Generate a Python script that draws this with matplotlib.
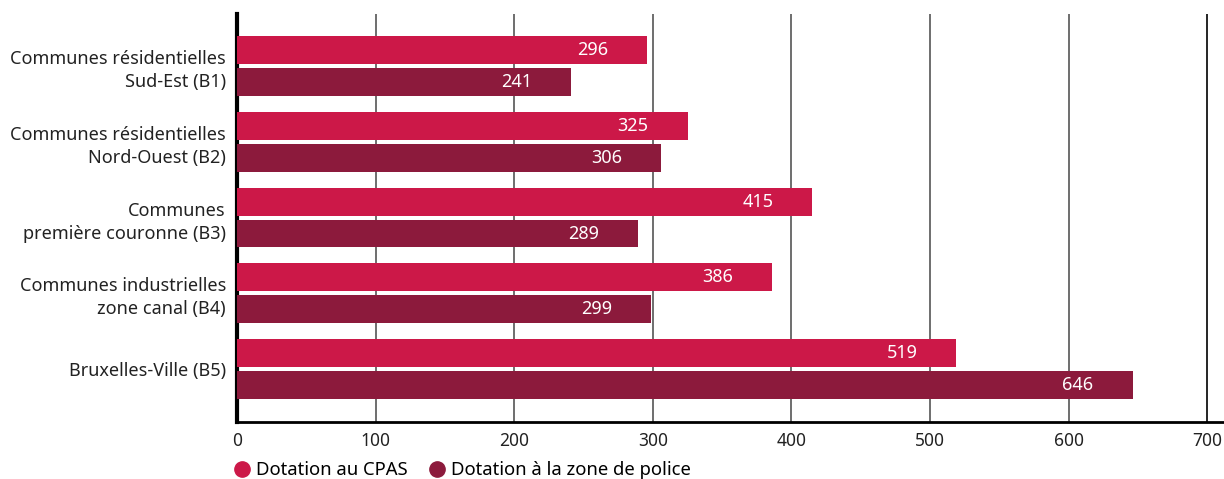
import numpy as np
import matplotlib
matplotlib.use("Agg")
import matplotlib.pyplot as plt
from matplotlib.lines import Line2D

plt.rcParams['font.family'] = ['Noto Sans', 'DejaVu Sans']

# data
categories = ["Communes résidentielles\nSud-Est (B1)",
              "Communes résidentielles\nNord-Ouest (B2)",
              "Communes\npremière couronne (B3)",
              "Communes industrielles\nzone canal (B4)",
              "Bruxelles-Ville (B5)"]
cpas = [296, 325, 415, 386, 519]
police = [241, 306, 289, 299, 646]
series_names = ["Dotation au CPAS", "Dotation à la zone de police"]
x_ticks = [0, 100, 200, 300, 400, 500, 600, 700]

col_cpas = "#CC1848"
col_police = "#8C1A3C"

fig = plt.figure(figsize=(12.24, 4.79), dpi=100)
ax = fig.add_axes([237/1224, 57/479, 1 - 237/1224, 408/479])

y = np.arange(len(categories))
h = 0.368
off = 0.21
b1 = ax.barh(y - off, cpas, height=h, color=col_cpas, zorder=3)
b2 = ax.barh(y + off, police, height=h, color=col_police, zorder=3)

for bars, vals in [(b1, cpas), (b2, police)]:
    for rect, v in zip(bars, vals):
        ax.annotate(str(v), (v, rect.get_y() + rect.get_height() / 2),
                    xytext=(-28, 0), textcoords="offset points",
                    ha="right", va="center", color="white", fontsize=13, zorder=4)

ax.set_xlim(0, 712)
ax.set_ylim(4.70, -0.69)
ax.set_yticks(y)
ax.set_yticklabels(categories, fontsize=13, color="#222222", linespacing=1.35)
ax.set_xticks(x_ticks)
ax.set_xticklabels([str(t) for t in x_ticks], fontsize=12.5, color="#222222")
ax.tick_params(axis="both", length=0)
ax.tick_params(axis="x", pad=7)
ax.tick_params(axis="y", pad=8)

ax.grid(axis="x", color="#555555", linewidth=1.2, zorder=0)
ax.xaxis.get_gridlines()[-1].set_color("black")
for s in ["top", "right"]:
    ax.spines[s].set_visible(False)
ax.spines["left"].set_linewidth(3)
ax.spines["bottom"].set_linewidth(2)

handles = [Line2D([], [], marker="o", linestyle="", markersize=11, color=c)
           for c in (col_cpas, col_police)]
fig.legend(handles, series_names, loc="center left", bbox_to_anchor=(222/1224, 9/479),
           ncol=2, frameon=False, fontsize=13.3, handletextpad=0.15, columnspacing=1.0,
           handlelength=1.2, borderpad=0)

fig.savefig("out.png", dpi=100)
